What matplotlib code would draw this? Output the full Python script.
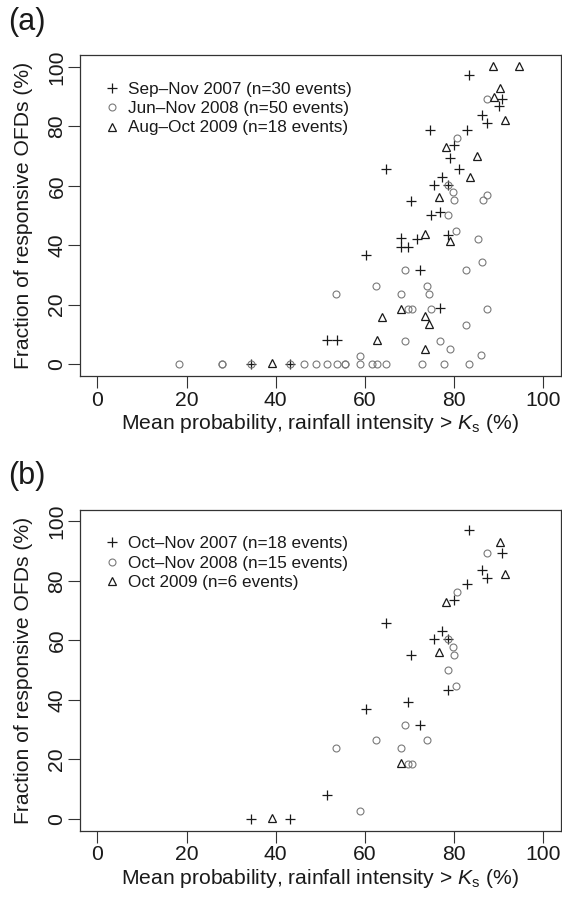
import matplotlib
matplotlib.use("Agg")
import matplotlib.pyplot as plt

plt.rcParams['font.family'] = ['Liberation Sans', 'DejaVu Sans']
plt.rcParams['mathtext.fontset'] = 'custom'
plt.rcParams['mathtext.rm'] = 'Liberation Sans'
plt.rcParams['mathtext.it'] = 'Liberation Sans:italic'

# ---------------- Panel (a) data ----------------
a_2007_x = [83.4, 90.8, 90.1, 86.3, 87.3, 74.7, 83.0, 79.9, 79.1, 64.7, 81.1, 77.3, 75.6, 78.6,
            70.4, 74.8, 76.8, 68.2, 71.7, 78.6, 68.2, 69.7, 60.2, 72.3, 76.8, 51.6, 53.7, 34.5, 43.2]
a_2007_y = [97.2, 89.2, 86.7, 83.8, 81.0, 78.8, 78.8, 73.6, 69.3, 65.8, 65.8, 63.0, 60.4, 60.4,
            55.0, 50.2, 51.3, 42.5, 42.0, 43.3, 39.4, 39.4, 36.8, 31.5, 19.0, 8.0, 8.0, 0.0, 0.0]

a_2008_x = [87.3, 80.6, 78.6, 79.8, 80.1, 87.4, 86.5, 78.6, 80.4, 85.3, 86.3, 69.0, 82.7, 62.6,
            74.0, 53.5, 68.2, 74.4, 69.7, 70.5, 74.8, 87.3, 82.6, 69.0, 76.8, 79.1, 58.9, 86.0,
            18.4, 27.9, 27.9, 34.5, 43.2, 46.3, 49.0, 51.6, 53.7, 55.6, 55.6, 58.9, 61.6, 62.7,
            64.7, 72.9, 77.7, 83.3]
a_2008_y = [89.2, 76.2, 60.4, 57.8, 55.1, 56.8, 55.2, 50.1, 44.7, 42.0, 34.2, 31.5, 31.5, 26.3,
            26.3, 23.7, 23.7, 23.7, 18.4, 18.4, 18.4, 18.4, 13.2, 7.9, 7.9, 5.2, 2.7, 3.0,
            0, 0, 0, 0, 0, 0, 0, 0, 0, 0, 0, 0, 0, 0,
            0, 0, 0, 0]

a_2009_x = [88.8, 94.6, 90.4, 88.9, 91.4, 78.2, 85.1, 83.5, 76.6, 73.5, 79.1, 68.2, 63.8, 73.5,
            74.4, 62.7, 73.5, 39.2]
a_2009_y = [100.2, 100.2, 93.0, 89.9, 82.2, 73.0, 70.0, 63.1, 56.2, 43.9, 41.4, 18.6, 15.9, 16.2,
            13.4, 8.0, 5.2, 0.3]

a_labels = ["Sep\u2013Nov 2007 (n=30 events)",
            "Jun\u2013Nov 2008 (n=50 events)",
            "Aug\u2013Oct 2009 (n=18 events)"]

# ---------------- Panel (b) data ----------------
b_2007_x = [83.4, 90.8, 86.3, 87.3, 83.0, 79.9, 64.7, 77.3, 75.6, 78.6, 70.4, 78.6, 69.7, 60.2,
            72.3, 51.6, 34.5, 43.2]
b_2007_y = [97.2, 89.2, 83.8, 81.0, 78.8, 73.6, 65.8, 63.0, 60.4, 60.4, 55.0, 43.3, 39.4, 36.8,
            31.5, 8.0, 0.0, 0.0]

b_2008_x = [87.3, 80.6, 78.6, 79.8, 80.1, 78.6, 80.4, 69.0, 62.6, 74.0, 53.5, 68.2, 69.7, 70.5, 58.9]
b_2008_y = [89.2, 76.2, 60.4, 57.8, 55.1, 50.1, 44.7, 31.5, 26.3, 26.3, 23.7, 23.7, 18.4, 18.4, 2.7]

b_2009_x = [90.4, 91.4, 78.2, 76.6, 68.2, 39.2]
b_2009_y = [93.0, 82.2, 73.0, 56.2, 18.6, 0.3]

b_labels = ["Oct\u2013Nov 2007 (n=18 events)",
            "Oct\u2013Nov 2008 (n=15 events)",
            "Oct 2009 (n=6 events)"]

ticks = [0, 20, 40, 60, 80, 100]
xlabel = "Mean probability, rainfall intensity > $\\mathit{K}_\\mathrm{s}$ (%)"
ylabel = "Fraction of responsive OFDs (%)"

W, H = 562, 901
fig = plt.figure(figsize=(W / 100, H / 100), dpi=100)

FS_LEG = 12.3
FS_AX = 15.2
DARK = '#1a1a1a'
GREY = '#7a7a7a'


def make_panel(top_px, bottom_px, s07, s08, s09, labels):
    left_px, right_px = 79.5, 561.0
    ax = fig.add_axes([left_px / W, 1 - bottom_px / H,
                       (right_px - left_px) / W, (bottom_px - top_px) / H])
    ax.plot(s07[0], s07[1], ls='none', marker='+', ms=7.2, mew=0.9, color=DARK, label=labels[0])
    ax.plot(s08[0], s08[1], ls='none', marker='o', ms=5.0, mew=0.8, mfc='none', mec=GREY, label=labels[1])
    ax.plot(s09[0], s09[1], ls='none', marker='^', ms=6.4, mew=0.9, mfc='none', mec=DARK, label=labels[2])
    ax.set_xlim(-4, 104)
    ax.set_ylim(-4, 104)
    ax.set_xticks(ticks)
    ax.set_yticks(ticks)
    ax.tick_params(axis='both', direction='out', length=8.4, width=0.8, color='#333333',
                   labelsize=FS_AX, labelcolor=DARK)
    ax.tick_params(axis='x', pad=2.3)
    ax.tick_params(axis='y', pad=1.0)
    for lab in ax.get_yticklabels():
        lab.set_rotation(90)
        lab.set_va('center')
    for sp in ax.spines.values():
        sp.set_linewidth(0.9)
        sp.set_color('#333333')
    ax.set_xlabel(xlabel, fontsize=FS_AX, color=DARK, va='center')
    ax.xaxis.set_label_coords(0.5, -(48.0) / (bottom_px - top_px))
    ax.set_ylabel(ylabel, fontsize=FS_AX, color=DARK, va='center')
    ax.yaxis.set_label_coords(-(left_px - 23.5) / (right_px - left_px), 0.5)
    ax.legend(loc='upper left', bbox_to_anchor=(0.05, 0.916), frameon=False, fontsize=FS_LEG,
              numpoints=1, handlelength=1.0, handletextpad=0.45, labelspacing=0.25,
              borderpad=0, borderaxespad=0, labelcolor=DARK)
    return ax


make_panel(55.0, 375.9, (a_2007_x, a_2007_y), (a_2008_x, a_2008_y), (a_2009_x, a_2009_y), a_labels)
make_panel(509.5, 830.5, (b_2007_x, b_2007_y), (b_2008_x, b_2008_y), (b_2009_x, b_2009_y), b_labels)

fig.text(8 / W, 1 - 22 / H, "(a)", fontsize=22, va='center', ha='left', color=DARK)
fig.text(8 / W, 1 - 476 / H, "(b)", fontsize=22, va='center', ha='left', color=DARK)

fig.savefig("out.png", dpi=100)
